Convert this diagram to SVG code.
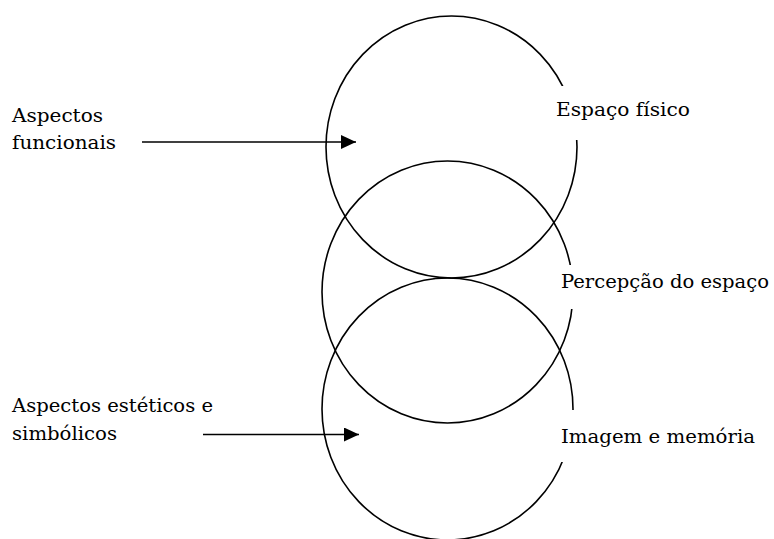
<svg xmlns="http://www.w3.org/2000/svg" width="774" height="539" viewBox="0 0 774 539">
<style>
.c{fill:none;stroke:#000;stroke-width:1.6}
.t{font-family:'DejaVu Serif',serif;font-size:19px;fill:#000}
.l{stroke:#000;stroke-width:1.6;fill:none}
.bg{fill:#fff}
</style>
<defs>
<marker id="ah" markerWidth="15" markerHeight="14" refX="15" refY="7" orient="auto" markerUnits="userSpaceOnUse">
<path d="M0,0 L15,7 L0,14 Z" fill="#000"/>
</marker>
</defs>
<rect width="774" height="539" fill="#fff"/>
<g id="circle-espaco"><ellipse class="c" cx="451.5" cy="147" rx="125.5" ry="131"/></g>
<g id="circle-percepcao"><ellipse class="c" cx="447.5" cy="292" rx="125.5" ry="131"/></g>
<g id="circle-imagem"><ellipse class="c" cx="447.5" cy="409" rx="125.5" ry="131"/></g>
<g id="label-espaco"><rect class="bg" x="550" y="86" width="150" height="54"/><text class="t" x="556" y="116" textLength="134" lengthAdjust="spacingAndGlyphs">Espaço físico</text></g>
<g id="label-percepcao"><rect class="bg" x="555" y="265" width="219" height="44"/><text class="t" x="561" y="288" textLength="208" lengthAdjust="spacingAndGlyphs">Percepção do espaço</text></g>
<g id="label-imagem"><rect class="bg" x="553" y="410" width="210" height="52"/><text class="t" x="561" y="443" textLength="194" lengthAdjust="spacingAndGlyphs">Imagem e memória</text></g>
<g id="label-funcionais"><text class="t" x="12" y="122" textLength="91" lengthAdjust="spacingAndGlyphs">Aspectos</text><text class="t" x="12" y="149" textLength="104" lengthAdjust="spacingAndGlyphs">funcionais</text></g>
<g id="label-esteticos"><text class="t" x="12" y="412" textLength="201" lengthAdjust="spacingAndGlyphs">Aspectos estéticos e</text><text class="t" x="12" y="440" textLength="105" lengthAdjust="spacingAndGlyphs">simbólicos</text></g>
<g id="connectors">
<line class="l" x1="142" y1="142" x2="356" y2="142" marker-end="url(#ah)"/>
<line class="l" x1="203" y1="434.5" x2="359" y2="434.5" marker-end="url(#ah)"/>
</g>
</svg>
